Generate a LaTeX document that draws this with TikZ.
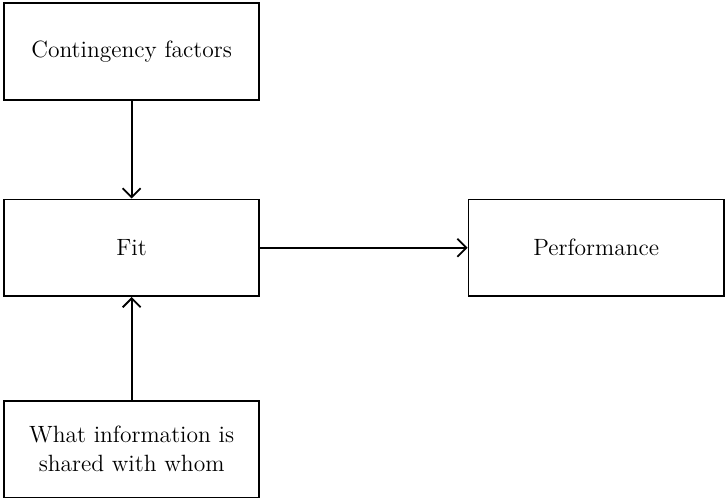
\documentclass[tikz,border=0pt]{standalone}
\usepackage{tikz}
\usetikzlibrary{positioning,arrows.meta}

\begin{document}
\begin{tikzpicture}[
    node distance=49pt and 104pt,
    box/.style={rectangle, draw, line width=0.9pt, minimum width=128pt, minimum height=48.5pt, align=center, fill=white, font=\fontsize{11.8}{14.5}\selectfont},
    arrow/.style={-{Straight Barb[length=4.5pt, width=9pt]}, line width=0.9pt}
]
\useasboundingbox (-66pt,-127pt) rectangle (298.5pt,124.25pt);
\node[box] (fit) at (0,0) {Fit};
\node[box, above=of fit] (contingency) {Contingency factors};
\node[box, right=of fit] (performance) {Performance};
\node[box, below=51.5pt of fit] (info) {What information is\\ shared with whom};
\draw[arrow] (contingency) -- (fit);
\draw[arrow] (info) -- (fit);
\draw[arrow] (fit) -- (performance);
\end{tikzpicture}
\end{document}
